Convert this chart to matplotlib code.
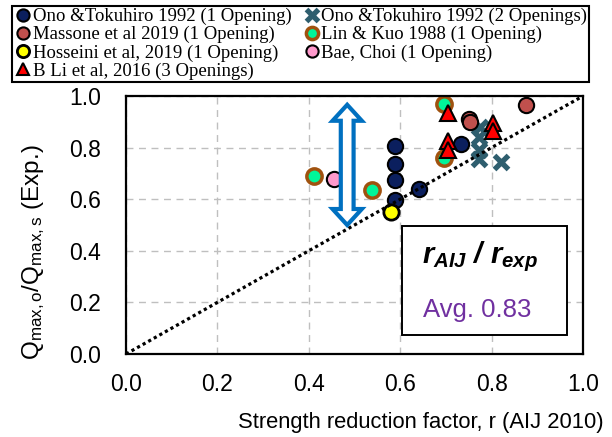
import matplotlib
matplotlib.use("Agg")
import matplotlib.pyplot as plt
from matplotlib.patches import Polygon, Rectangle

plt.rcParams['font.family'] = ['Liberation Sans', 'DejaVu Sans']
plt.rcParams['mathtext.fontset'] = 'custom'
plt.rcParams['mathtext.rm'] = 'Liberation Sans'
plt.rcParams['mathtext.it'] = 'Liberation Sans:italic:bold'
plt.rcParams['mathtext.bf'] = 'Liberation Sans:bold'

# ---- data ----
ono1_x = [0.589, 0.589, 0.589, 0.589, 0.642, 0.733]
ono1_y = [0.806, 0.735, 0.674, 0.597, 0.638, 0.814]
ono2_x = [0.775, 0.773, 0.773, 0.773, 0.820]
ono2_y = [0.879, 0.842, 0.791, 0.755, 0.745]
massone_x = [0.751, 0.753, 0.875]
massone_y = [0.910, 0.899, 0.965]
lin_x = [0.696, 0.696, 0.412, 0.538]
lin_y = [0.969, 0.759, 0.690, 0.636]
hosseini_x = [0.579]
hosseini_y = [0.552]
bae_x = [0.456]
bae_y = [0.677]
bli_x = [0.705, 0.705, 0.705, 0.802, 0.802]
bli_y = [0.935, 0.827, 0.791, 0.894, 0.866]
diag = [0.0, 1.0]
ticks = [0.0, 0.2, 0.4, 0.6, 0.8, 1.0]
tick_labels = ['0.0', '0.2', '0.4', '0.6', '0.8', '1.0']
avg_ratio = 0.83

fig = plt.figure(figsize=(6.12, 4.37), dpi=100)
ax = fig.add_axes([126/612, 1-354/437, 457/612, 258/437])
ax.set_xlim(0, 1)
ax.set_ylim(0, 1)
ax.set_xticks(ticks)
ax.set_yticks(ticks)
ax.set_xticklabels(tick_labels)
ax.set_yticklabels(tick_labels)
ax.tick_params(length=0, labelsize=16.5, pad=14)
ax.tick_params(axis='y', pad=18)
ax.grid(True, color='#BFBFBF', linestyle=(0, (5, 4)), linewidth=1.0, zorder=0)
ax.set_axisbelow(True)
for s in ax.spines.values():
    s.set_linewidth(1.6)
    s.set_zorder(10)

ms = 11
h_ono1, = ax.plot(ono1_x, ono1_y, 'o', ms=ms, mfc='#0B1F5E', mec='black', mew=1.5, zorder=3,
                  label='Ono &Tokuhiro 1992 (1 Opening)')
h_ono2, = ax.plot(ono2_x, ono2_y, 'x', ms=10, mec='#2E5E6E', mew=3.8, zorder=3,
                  label='Ono &Tokuhiro 1992 (2 Openings)')
h_mas, = ax.plot(massone_x, massone_y, 'o', ms=ms, mfc='#C0504D', mec='black', mew=1.5, zorder=3,
                 label='Massone et al 2019 (1 Opening)')
h_lin, = ax.plot(lin_x, lin_y, 'o', ms=ms, mfc='#00F59A', mec='#A0520F', mew=2.5, zorder=3,
                 label='Lin & Kuo 1988 (1 Opening)')
h_hos, = ax.plot(hosseini_x, hosseini_y, 'o', ms=ms, mfc='#FFFF00', mec='black', mew=2.0, zorder=4,
                 label='Hosseini et al, 2019 (1 Opening)')
h_bae, = ax.plot(bae_x, bae_y, 'o', ms=ms, mfc='#FF99CC', mec='black', mew=1.5, zorder=3,
                 label='Bae, Choi (1 Opening)')
h_bli, = ax.plot(bli_x, bli_y, '^', ms=11, mfc='#FF0000', mec='black', mew=1.5, zorder=5,
                 label='B Li et al, 2016 (3 Openings)')

ax.plot(diag, diag, color='black', linestyle=(0, (1, 1)), linewidth=2.3, zorder=6)

# double-headed hollow arrow
ax_x, y0, y1 = 0.484, 0.500, 0.966
hw, sw, hl = 0.032, 0.014, 0.062
verts = [(ax_x, y1), (ax_x + hw, y1 - hl), (ax_x + sw, y1 - hl), (ax_x + sw, y0 + hl),
         (ax_x + hw, y0 + hl), (ax_x, y0), (ax_x - hw, y0 + hl), (ax_x - sw, y0 + hl),
         (ax_x - sw, y1 - hl), (ax_x - hw, y1 - hl)]
ax.add_patch(Polygon(verts, closed=True, facecolor='white', edgecolor='#0070C0',
                     linewidth=3.0, joinstyle='miter', zorder=8))

# text box
ax.add_patch(Rectangle((0.605, 0.074), 0.360, 0.423, facecolor='white', edgecolor='black',
                       linewidth=1.4, zorder=7))
ax.text(0.648, 0.353, r'$r_{AIJ}$ / $r_{exp}$', fontsize=21, fontweight='bold', fontstyle='italic',
        ha='left', va='baseline', zorder=9)
ax.text(0.650, 0.145, f'Avg. {avg_ratio:.2f}', fontsize=18.5, color='#7030A0',
        ha='left', va='baseline', zorder=9)

ax.set_xlabel('Strength reduction factor, r (AIJ 2010)', fontsize=15.8)
ax.xaxis.set_label_coords(0.646, -0.225)
fig.text(34/612, 1-252/437, r'$\mathregular{Q_{max,o}/Q_{max,s}}$ (Exp.)', rotation=90,
         fontsize=17.5, ha='center', va='center')

handles = [h_ono1, h_mas, h_hos, h_bli, h_ono2, h_lin, h_bae]
leg = fig.legend(handles=handles, labels=[h.get_label() for h in handles], ncol=2,
                 loc='upper left', bbox_to_anchor=(12/612, 1-6/437),
                 prop={'family': 'Liberation Serif', 'size': 13.5},
                 frameon=True, fancybox=False, edgecolor='black', framealpha=1,
                 borderpad=0.1, handletextpad=0.0, handlelength=1.0, labelspacing=0.05,
                 columnspacing=0.6, borderaxespad=0, markerscale=0.8)
leg.get_frame().set_linewidth(1.5)

fig.savefig('out.png', dpi=100)
